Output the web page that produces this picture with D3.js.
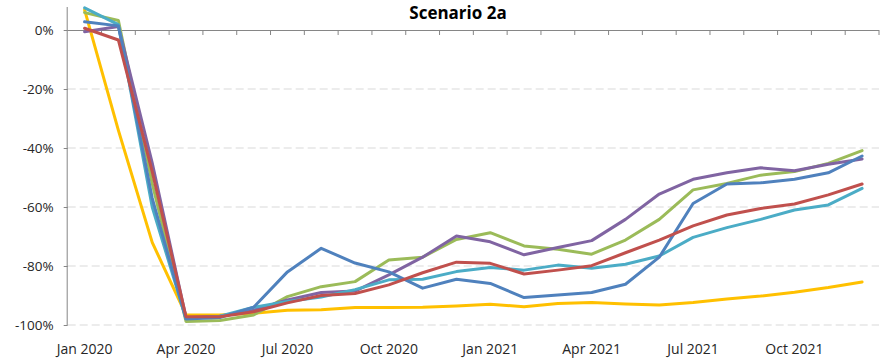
<!DOCTYPE html>
<html>
<head>
<meta charset="utf-8">
<script src="https://cdn.jsdelivr.net/npm/d3@7"></script>
<style>
  html, body { margin: 0; padding: 0; background: #fff; }
  svg { display: block; font-family: "Open Sans", "Noto Sans", sans-serif; }
</style>
</head>
<body>
<svg id="chart" width="889" height="359"></svg>
<script>
// Monthly categories, Jan 2020 – Dec 2021
const months = [
  "Jan 2020","Feb 2020","Mar 2020","Apr 2020","May 2020","Jun 2020",
  "Jul 2020","Aug 2020","Sep 2020","Oct 2020","Nov 2020","Dec 2020",
  "Jan 2021","Feb 2021","Mar 2021","Apr 2021","May 2021","Jun 2021",
  "Jul 2021","Aug 2021","Sep 2021","Oct 2021","Nov 2021","Dec 2021"
];
const xTickLabels = ["Jan 2020","Apr 2020","Jul 2020","Oct 2020","Jan 2021","Apr 2021","Jul 2021","Oct 2021"];
const yTicks = [0, -20, -40, -60, -80, -100];

// Change versus baseline, in percent
const seriesBlue   = [2.8, 1.4, -57, -98.0, -97.5, -94.0, -82.0, -74.0, -79.0, -82.0, -87.5, -84.5, -85.9, -90.7, -89.8, -89.0, -86.2, -77.0, -58.8, -52.2, -51.8, -50.6, -48.4, -42.7];
const seriesRed    = [0.6, -3.4, -48, -97.2, -97.2, -95.5, -92.5, -90.0, -89.3, -86.4, -82.3, -78.7, -79.1, -82.7, -81.4, -79.9, -75.5, -71.2, -66.4, -62.7, -60.5, -59.0, -55.9, -52.2];
const seriesGreen  = [5.9, 3.2, -52, -98.8, -98.5, -96.6, -90.4, -87.0, -85.3, -78.0, -77.0, -71.0, -68.7, -73.2, -74.3, -76.0, -71.2, -64.2, -54.2, -52.0, -49.2, -48.0, -45.2, -40.9];
const seriesPurple = [-0.6, 1.2, -45, -97.5, -97.0, -95.0, -91.5, -89.0, -88.5, -83.0, -77.0, -69.8, -71.8, -76.2, -73.7, -71.4, -64.2, -55.6, -50.6, -48.4, -46.7, -47.7, -45.5, -43.7];
const seriesTeal   = [7.5, 1.8, -60, -97.8, -97.0, -94.0, -92.0, -90.5, -88.0, -84.7, -84.5, -81.9, -80.5, -81.4, -79.7, -80.8, -79.4, -76.6, -70.3, -67.0, -64.2, -61.0, -59.3, -53.7];
const seriesYellow = [6.8, -34, -72, -96.6, -96.6, -96.0, -95.0, -94.8, -94.1, -94.1, -94.0, -93.6, -93.0, -93.8, -92.7, -92.4, -92.9, -93.2, -92.4, -91.2, -90.2, -88.9, -87.3, -85.4];

// Drawing order, bottom to top
const series = [
  { values: seriesYellow, color: "#FFC000" },
  { values: seriesGreen,  color: "#9BBB59" },
  { values: seriesPurple, color: "#8064A2" },
  { values: seriesTeal,   color: "#4BACC6" },
  { values: seriesBlue,   color: "#4F81BD" },
  { values: seriesRed,    color: "#C0504D" }
];

const svg = d3.select("#chart");
const plotLeft = 67.7, plotRight = 879, plotTop = 7, plotBottom = 325;

const x = d3.scaleBand().domain(months).range([plotLeft, plotRight]).padding(0);
const y = d3.scaleLinear().domain([-100, 7.8]).range([plotBottom, plotTop]);
const cx = m => x(m) + x.bandwidth() / 2;

// Dashed horizontal gridlines
svg.append("g")
  .selectAll("line")
  .data(yTicks.filter(d => d !== 0))
  .join("line")
  .attr("x1", plotLeft).attr("x2", plotRight)
  .attr("y1", d => y(d)).attr("y2", d => y(d))
  .attr("stroke", "#D9D9D9")
  .attr("stroke-width", 1)
  .attr("stroke-dasharray", "8,4");

// Y axis
const yAxis = svg.append("g")
  .attr("transform", `translate(${plotLeft},0)`)
  .call(d3.axisLeft(y).tickValues(yTicks).tickSize(4).tickPadding(10)
    .tickFormat(d => Math.round(d) + "%"));
yAxis.select(".domain").attr("stroke", "#868686").attr("d", `M-0.5,${plotTop}V${plotBottom}`);
yAxis.selectAll(".tick line").attr("stroke", "#868686");
yAxis.selectAll(".tick text").attr("font-size", 13.5).attr("fill", "#262626")
  .attr("font-family", "'Open Sans', 'Noto Sans', sans-serif");

// Category axis crossing at 0%
const xAxis = svg.append("g")
  .attr("transform", `translate(0,${y(0)})`)
  .call(d3.axisBottom(x).tickSize(0).tickFormat(""));
xAxis.select(".domain").attr("stroke", "#868686").attr("d", `M${plotLeft},0.5H${plotRight}`);
xAxis.selectAll(".tick").remove();
xAxis.append("g")
  .selectAll("line")
  .data(months)
  .join("line")
  .attr("x1", d => x(d) + x.bandwidth()).attr("x2", d => x(d) + x.bandwidth())
  .attr("y1", 0).attr("y2", 5)
  .attr("stroke", "#868686");

// Category labels along the bottom
svg.append("g")
  .selectAll("text")
  .data(xTickLabels)
  .join("text")
  .attr("x", d => cx(d))
  .attr("y", 354)
  .attr("text-anchor", "middle")
  .attr("font-size", 14)
  .attr("fill", "#262626")
  .text(d => d);

// Series lines
const line = d3.line()
  .x((d, i) => cx(months[i]))
  .y(d => y(d));

svg.append("g")
  .selectAll("path")
  .data(series)
  .join("path")
  .attr("d", d => line(d.values))
  .attr("fill", "none")
  .attr("stroke", d => d.color)
  .attr("stroke-width", 3)
  .attr("stroke-linejoin", "round")
  .attr("stroke-linecap", "round");

// Title
svg.append("text")
  .attr("x", 458)
  .attr("y", 18.5)
  .attr("text-anchor", "middle")
  .attr("font-size", 17)
  .attr("font-weight", "bold")
  .attr("fill", "#000")
  .text("Scenario 2a");
</script>
</body>
</html>
